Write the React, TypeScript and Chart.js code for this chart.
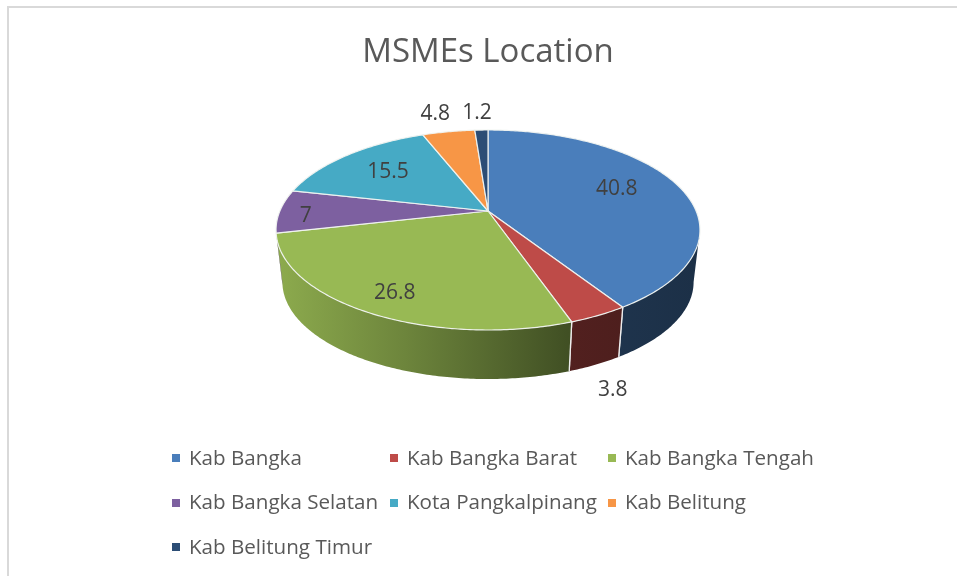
import React, { useEffect, useRef } from "react";
import { Chart, registerables } from "chart.js";

Chart.register(...registerables);

const categories = [
  "Kab Bangka",
  "Kab Bangka Barat",
  "Kab Bangka Tengah",
  "Kab Bangka Selatan",
  "Kota Pangkalpinang",
  "Kab Belitung",
  "Kab Belitung Timur",
];
const shares = [40.8, 3.8, 26.8, 7, 15.5, 4.8, 1.2];
const sliceColors = ["#4a7ebb", "#be4b48", "#98b954", "#7d60a0", "#46aac5", "#f79646", "#2c4d75"];
const chartTitle = "MSMEs Location";

// Multipliers from the projected slice mid-point to the label centre.
const labelFactors = [
  [0.68, 0.88],
  [1.13, 1.71],
  [0.77, 0.8],
  [0.875, 0.6],
  [0.71, 0.72],
  [1.34, 1.24],
  [1.65, 1.22],
];

const FONT = '"Open Sans", sans-serif';
const REF_RADIUS = 130;
const STRETCH_X = 208.1 / REF_RADIUS;
const STRETCH_Y = 96.39 / REF_RADIUS;
const TILT = -0.19;
const RIM_SCALE = 0.97;
const RIM_DROP = 52.6 / REF_RADIUS;
const T_RIGHT = Math.acos(TILT);
const T_LEFT = 2 * Math.PI - T_RIGHT;

function project(el: any, t: number, scale = 1, drop = 0) {
  const r = el.outerRadius;
  const X = Math.sin(t);
  const Y = -Math.cos(t);
  const w = 1 + TILT * Y;
  return {
    x: el.x + (scale * STRETCH_X * r * X) / w,
    y: el.y + drop * r + (scale * STRETCH_Y * r * Y) / w,
    ux: (STRETCH_X * r * X) / w,
    uy: (STRETCH_Y * r * Y) / w,
  };
}

function arcPoints(el: any, a: number, b: number, scale = 1, drop = 0) {
  const n = Math.max(2, Math.ceil(Math.abs(b - a) / 0.012));
  const out: { x: number; y: number }[] = [];
  for (let i = 0; i <= n; i++) out.push(project(el, a + ((b - a) * i) / n, scale, drop));
  return out;
}

function shade(hex: string, f: number) {
  const v = parseInt(hex.slice(1), 16);
  const c = [(v >> 16) & 255, (v >> 8) & 255, v & 255].map((p) => Math.round(p * f));
  return `rgb(${c[0]},${c[1]},${c[2]})`;
}

const pie3d = {
  id: "pie3d",
  beforeDraw(chart: any) {
    const { ctx, width, height } = chart;
    ctx.save();
    ctx.fillStyle = "#ffffff";
    ctx.fillRect(0, 0, width, height);
    ctx.strokeStyle = "#d9d9d9";
    ctx.lineWidth = 2;
    ctx.beginPath();
    ctx.moveTo(8, height);
    ctx.lineTo(8, 7);
    ctx.lineTo(width, 7);
    ctx.stroke();
    ctx.restore();
  },
  beforeDatasetsDraw(chart: any) {
    const { ctx } = chart;
    const arcs = chart.getDatasetMeta(0).data as any[];
    ctx.save();
    ctx.lineJoin = "round";

    // Side wall
    arcs.forEach((el) => {
      const s = el.startAngle + Math.PI / 2;
      const e = el.endAngle + Math.PI / 2;
      const a = Math.max(s, T_RIGHT);
      const b = Math.min(e, T_LEFT);
      if (b <= a) return;
      const top = arcPoints(el, a, b);
      const low = arcPoints(el, b, a, RIM_SCALE, RIM_DROP);
      const r = el.outerRadius;
      const base = el.options.backgroundColor;
      const g = ctx.createLinearGradient(el.x - STRETCH_X * r, 0, el.x + STRETCH_X * r, 0);
      g.addColorStop(0, shade(base, 0.92));
      g.addColorStop(0.3, shade(base, 0.72));
      g.addColorStop(0.69, shade(base, 0.43));
      g.addColorStop(1, shade(base, 0.38));
      ctx.beginPath();
      [...top, ...low].forEach((p, i) => (i ? ctx.lineTo(p.x, p.y) : ctx.moveTo(p.x, p.y)));
      ctx.closePath();
      ctx.fillStyle = g;
      ctx.fill();
      // Vertical seams between slices, on the lit right-hand front only
      ctx.strokeStyle = "#eeeeee";
      ctx.lineWidth = 1.3;
      [
        [a, s],
        [b, e],
      ].forEach(([edge, real]) => {
        if (edge !== real || Math.sin(edge) < 0) return;
        const p = project(el, edge);
        const q = project(el, edge, RIM_SCALE, RIM_DROP);
        ctx.beginPath();
        ctx.moveTo(p.x, p.y);
        ctx.lineTo(q.x, q.y);
        ctx.stroke();
      });
    });

    // Top face
    arcs.forEach((el) => {
      const s = el.startAngle + Math.PI / 2;
      const e = el.endAngle + Math.PI / 2;
      const pts = arcPoints(el, s, e);
      ctx.beginPath();
      ctx.moveTo(el.x, el.y);
      pts.forEach((p) => ctx.lineTo(p.x, p.y));
      ctx.closePath();
      ctx.fillStyle = el.options.backgroundColor;
      ctx.fill();
      ctx.strokeStyle = "rgba(240,243,240,0.95)";
      ctx.lineWidth = 1.2;
      ctx.stroke();
    });

    // Data labels
    ctx.fillStyle = "#404040";
    ctx.font = `21px ${FONT}`;
    ctx.textAlign = "center";
    ctx.textBaseline = "middle";
    arcs.forEach((el, i) => {
      const mid = (el.startAngle + el.endAngle) / 2 + Math.PI / 2;
      const p = project(el, mid);
      const [fx, fy] = labelFactors[i];
      ctx.fillText(
        String(chart.data.datasets[0].data[i]),
        el.x + p.ux * fx,
        el.y + 1 + (i === 3 ? 4 : p.uy * fy)
      );
    });

    // Legend, in the reference's three aligned columns
    const colors = chart.data.datasets[0].backgroundColor as string[];
    ctx.textAlign = "left";
    ctx.font = `20.6px ${FONT}`;
    (chart.data.labels as string[]).forEach((label, i) => {
      const col = i % 3;
      const row = Math.floor(i / 3);
      const x = 172 + col * 218;
      const y = 458 + row * 44.5;
      ctx.fillStyle = colors[i];
      ctx.fillRect(x, Math.round(y) - 4, 8, 8);
      ctx.fillStyle = "#595959";
      ctx.fillText(label, x + 17, y + 1);
    });

    ctx.restore();
    return false;
  },
};

export default function App() {
  const ref = useRef<HTMLCanvasElement>(null);
  useEffect(() => {
    const chart = new Chart(ref.current as HTMLCanvasElement, {
      type: "pie",
      data: {
        labels: categories,
        datasets: [
          {
            data: shares,
            backgroundColor: sliceColors,
            borderWidth: 0,
            hoverBorderWidth: 0,
          },
        ],
      },
      options: {
        responsive: false,
        animation: false,
        events: [],
        layout: { padding: { left: 19, bottom: 235 } },
        plugins: {
          legend: { display: false },
          tooltip: { enabled: false },
          title: {
            display: true,
            text: chartTitle,
            color: "#595959",
            font: { family: FONT, size: 33, weight: "normal" },
            padding: { top: 33, bottom: 8.4 },
          },
        },
      },
      plugins: [pie3d],
    } as any);
    return () => chart.destroy();
  }, []);
  return (
    <canvas
      ref={ref}
      width={957}
      height={576}
      style={{ position: "absolute", left: 0, top: 0, display: "block" }}
    />
  );
}
